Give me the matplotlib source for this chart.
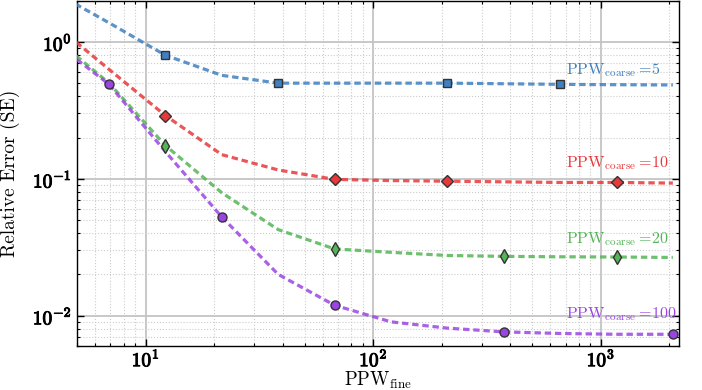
import numpy as np
import matplotlib
matplotlib.use("Agg")
import matplotlib.pyplot as plt
import matplotlib.patheffects as pe
from matplotlib.ticker import FuncFormatter, LogLocator

plt.rcParams["font.family"] = "cmr10"
plt.rcParams["mathtext.fontset"] = "cm"
plt.rcParams["axes.formatter.use_mathtext"] = True

# fine-grid points per wavelength (shared sample points for every curve)
ppw_fine = [3.9, 6.9, 12.2, 21.6, 38.2, 67.6, 119.5, 211, 374, 662, 1171, 2071]

# relative error for each coarse resolution
err_c5 = [2.35, 1.38, 0.80, 0.57, 0.50, 0.50, 0.50, 0.50, 0.495, 0.49, 0.487, 0.485]
err_c10 = [1.38, 0.63, 0.29, 0.15, 0.116, 0.099, 0.097, 0.096, 0.095, 0.094, 0.094, 0.093]
err_c20 = [1.10, 0.50, 0.175, 0.079, 0.0425, 0.0307, 0.029, 0.0275, 0.0271, 0.0269, 0.0268, 0.0266]
err_c100 = [1.02, 0.49, 0.158, 0.0525, 0.020, 0.0119, 0.0090, 0.0081, 0.0076, 0.0074, 0.0073, 0.0073]

# which samples carry a marker
marks_c5 = [2, 4, 7, 9]
marks_c10 = [2, 5, 7, 10]
marks_c20 = [2, 5, 8, 10]
marks_c100 = [1, 3, 5, 8, 11]

series = [
    ("5", err_c5, marks_c5, "#3f80c0", "s", 6.0, 0.625),
    ("10", err_c10, marks_c10, "#e8383a", "D", 6.0, 0.131),
    ("20", err_c20, marks_c20, "#55b455", "d", 7.5, 0.0363),
    ("100", err_c100, marks_c100, "#9a45e2", "o", 6.5, 0.0102),
]

fig = plt.figure(figsize=(7.02, 3.90), dpi=100)
ax = fig.add_axes([0.110, 0.113, 0.857, 0.885])

for label, err, marks, color, marker, ms, ytxt in series:
    ax.plot(ppw_fine, err, linestyle=(0, (2.0, 1.2)), linewidth=2.3,
            color=color, alpha=0.85, zorder=3)
    ax.plot([ppw_fine[i] for i in marks], [err[i] for i in marks],
            linestyle="none", marker=marker, markersize=ms,
            markerfacecolor=color, markeredgecolor="#333333",
            markeredgewidth=1.0, zorder=4)
    ax.text(703, ytxt, r"$\mathrm{PPW}_{\mathrm{coarse}}=\!" + label + "$",
            color=color, fontsize=11.5, va="center", ha="left", zorder=5)

ax.set_xscale("log")
ax.set_yscale("log")
ax.set_xlim(5, 2200)
ax.set_ylim(0.006, 2.0)

ax.xaxis.set_major_locator(LogLocator(base=10))
ax.yaxis.set_major_locator(LogLocator(base=10))
ax.xaxis.set_minor_locator(LogLocator(base=10, subs=np.arange(2, 10)))
ax.yaxis.set_minor_locator(LogLocator(base=10, subs=np.arange(2, 10)))

bold_pow = FuncFormatter(lambda v, pos: r"$\mathbf{10^{%d}}$" % round(np.log10(v)))
ax.xaxis.set_major_formatter(bold_pow)
ax.yaxis.set_major_formatter(bold_pow)
ax.xaxis.set_minor_formatter(FuncFormatter(lambda v, pos: ""))
ax.yaxis.set_minor_formatter(FuncFormatter(lambda v, pos: ""))

ax.tick_params(which="both", direction="in", top=True, right=True, labelsize=14)
ax.tick_params(axis="x", which="major", pad=2)
ax.tick_params(axis="y", which="major", pad=4)
ax.tick_params(which="major", length=5, width=1.0)
ax.tick_params(which="minor", length=2.5, width=0.8)

# heavier strokes on the tick numbers
for lab in ax.get_xticklabels() + ax.get_yticklabels():
    lab.set_path_effects([pe.withStroke(linewidth=0.7, foreground="black")])

ax.grid(True, which="major", color="#c4c4c4", linewidth=1.3, linestyle="-")
ax.grid(True, which="minor", color="#cccccc", linewidth=0.8, linestyle=":")
ax.set_axisbelow(True)

for sp in ax.spines.values():
    sp.set_color("black")
    sp.set_linewidth(1.0)

ax.set_xlabel(r"$\mathrm{PPW}_{\mathrm{fine}}$", fontsize=13.5)
ax.xaxis.set_label_coords(0.5, -0.068)
ax.set_ylabel("Relative Error (SE)", fontsize=14)
ax.yaxis.set_label_coords(-0.095, 0.5)

fig.savefig("out.png", dpi=100)
